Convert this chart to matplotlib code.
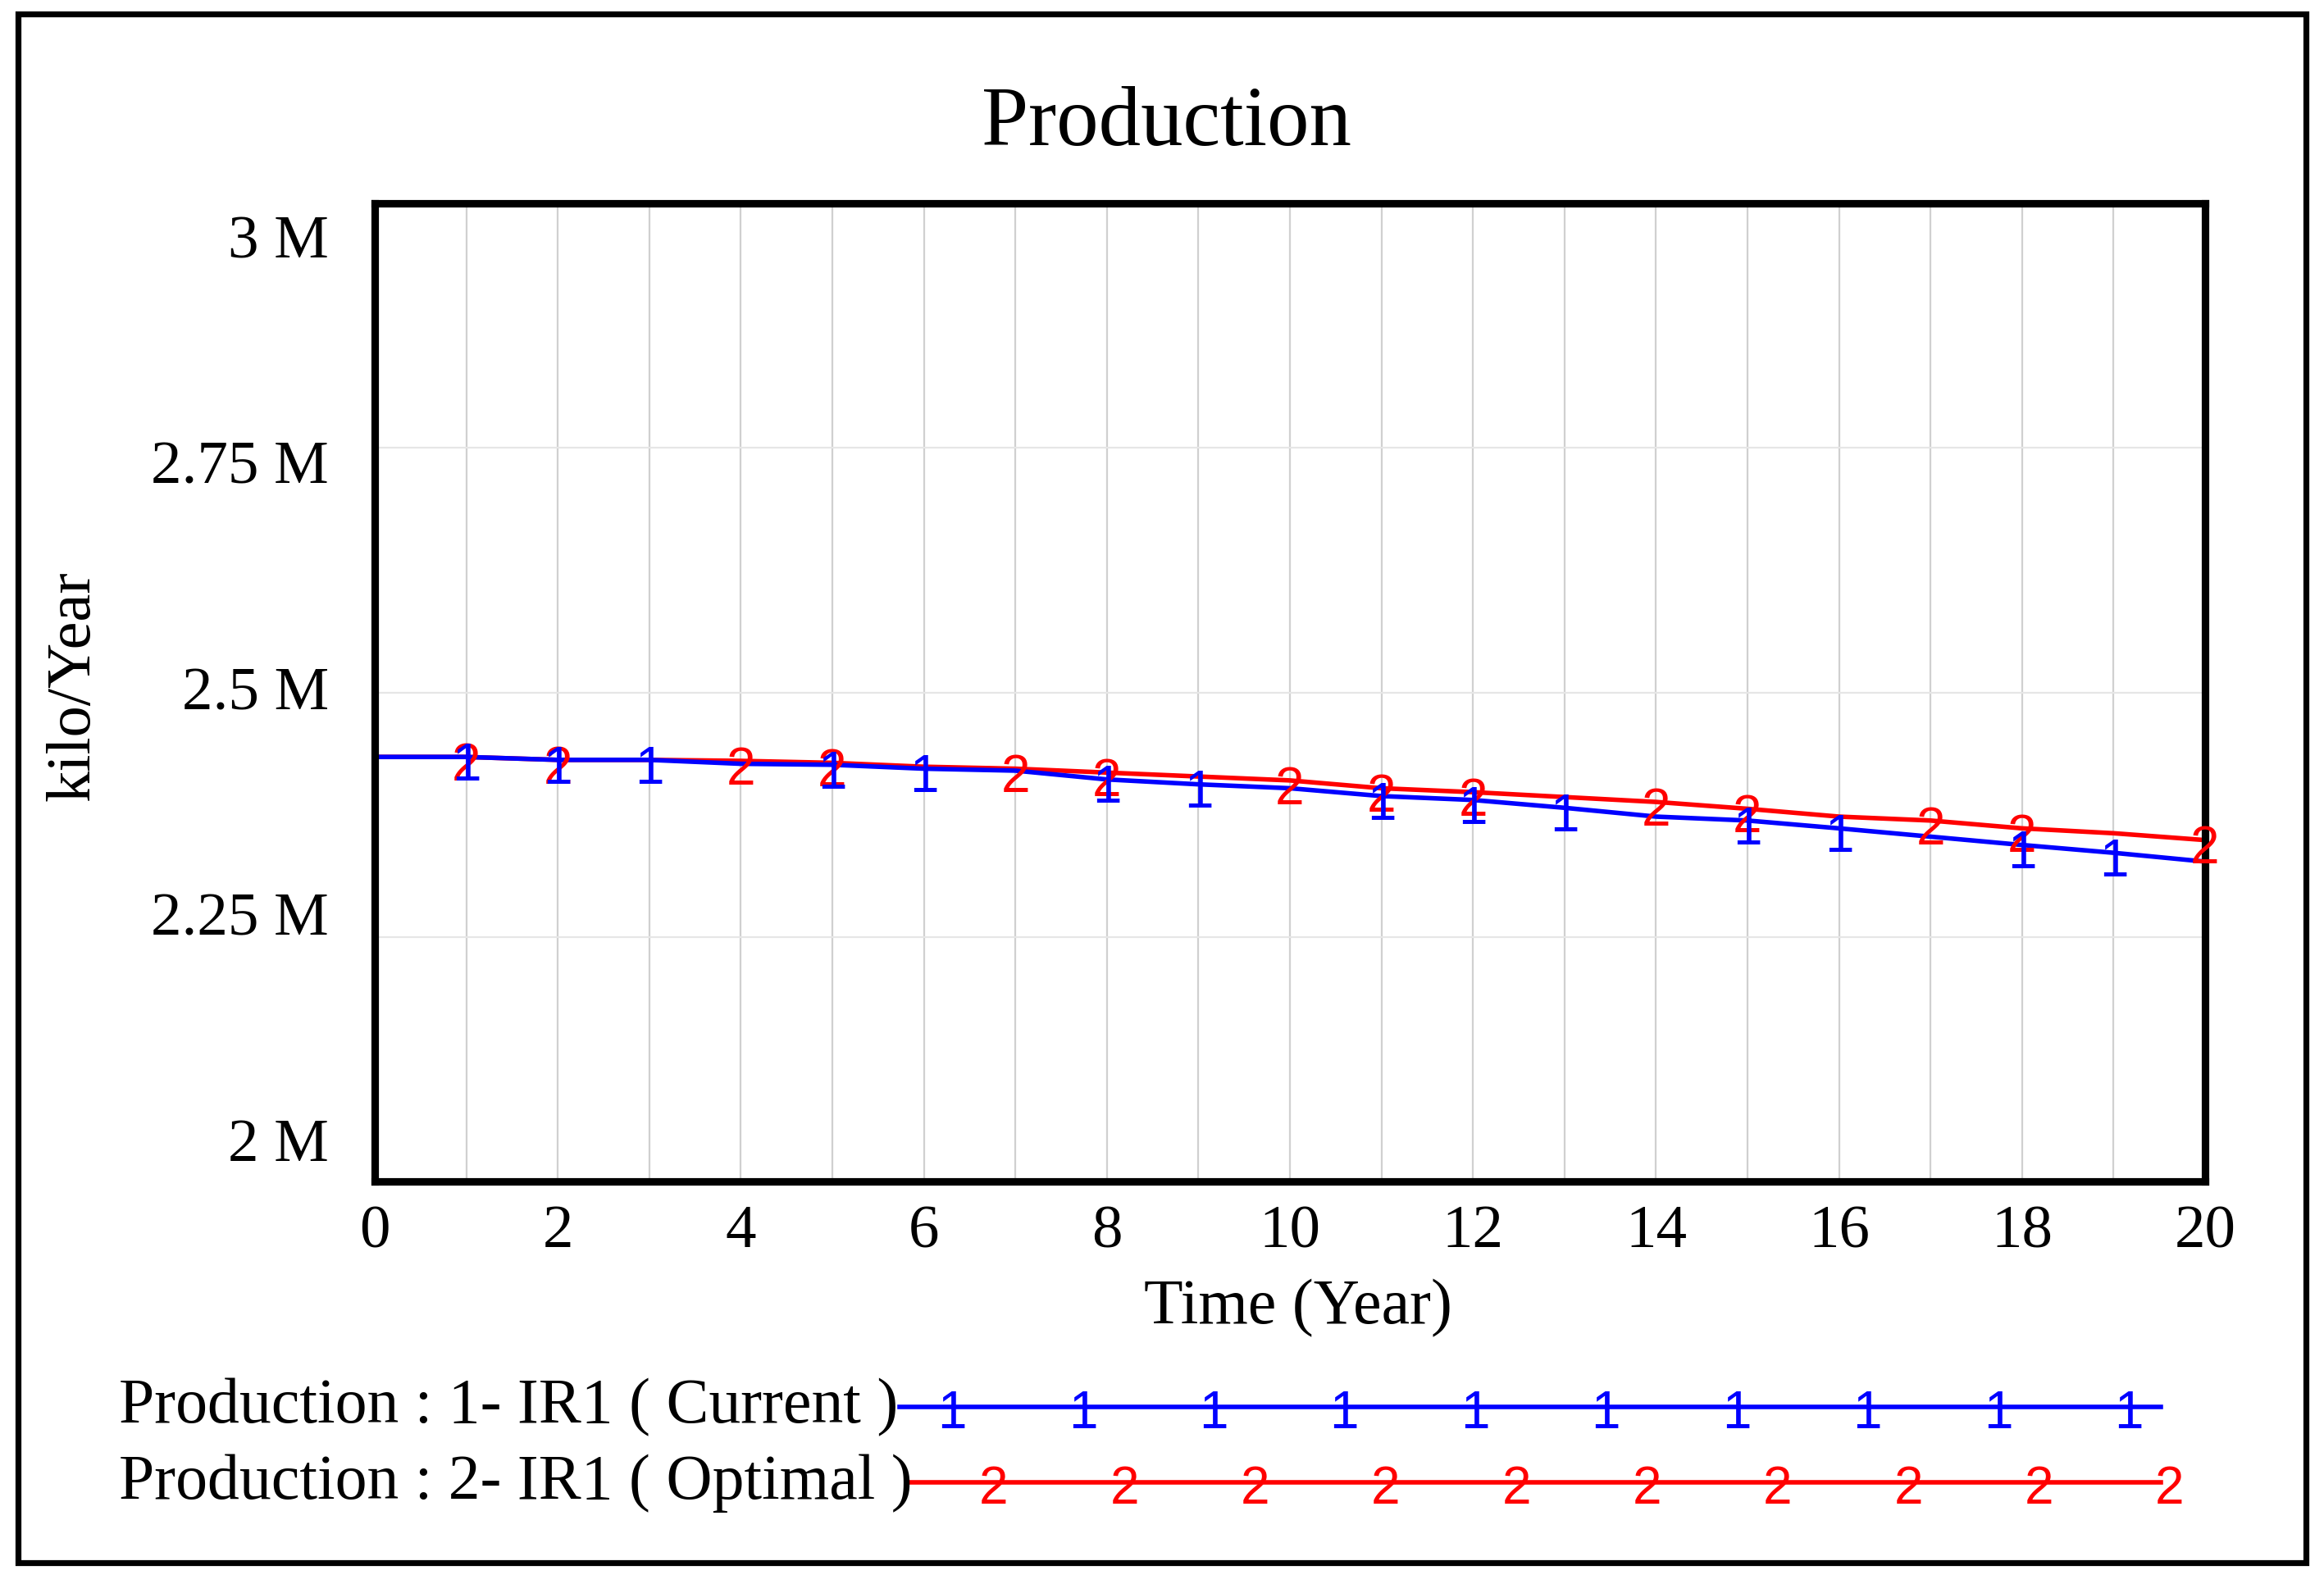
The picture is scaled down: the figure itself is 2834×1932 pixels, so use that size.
import matplotlib
matplotlib.use('Agg')
import matplotlib.pyplot as plt
import numpy as np
from matplotlib.transforms import offset_copy
from matplotlib.patches import Rectangle
from matplotlib.lines import Line2D

# ---------------- data ----------------
years = list(range(21))
current = [2.434, 2.434, 2.431, 2.431, 2.427, 2.426, 2.422, 2.420, 2.411, 2.406,
           2.402, 2.394, 2.390, 2.382, 2.373, 2.369, 2.361, 2.3525, 2.344, 2.336, 2.327]
optimal = [2.434, 2.434, 2.431, 2.431, 2.430, 2.428, 2.424, 2.422, 2.418, 2.414,
           2.410, 2.402, 2.398, 2.393, 2.388, 2.381, 2.373, 2.369, 2.361, 2.356, 2.349]
current_marks = [1, 2, 3, 5, 6, 8, 9, 11, 12, 13, 15, 16, 18, 19]
optimal_marks = [1, 2, 4, 5, 7, 8, 10, 11, 12, 14, 15, 17, 18, 20]
ytick_labels = ['2 M', '2.25 M', '2.5 M', '2.75 M', '3 M']
ygrid_values = [2.25, 2.5, 2.75]
xtick_values = list(range(0, 21, 2))
legend_labels = ['Production : 1- IR1 ( Current )', 'Production : 2- IR1 ( Optimal )']
title = 'Production'
xlabel = 'Time (Year)'
ylabel = 'kilo/Year'

# ---------------- layout ----------------
W, H, DPI = 2834, 1933, 200
SERIF = ['Liberation Serif', 'DejaVu Serif']
SANS = ['Liberation Sans', 'DejaVu Sans']
BLUE = '#0000ff'
RED = '#ff0000'
MARK_FS = 23

fig = plt.figure(figsize=(W / DPI, H / DPI), dpi=DPI)
fig.patch.set_facecolor('white')


def fx(px):
    return px / W


def fy(py):
    return 1 - py / H


ax_l, ax_r, ax_t, ax_b = 457, 2689, 249, 1442
ax = fig.add_axes([fx(ax_l), fy(ax_b), fx(ax_r) - fx(ax_l), fy(ax_t) - fy(ax_b)])
ax.set_xlim(0, 20)
ax.set_ylim(2, 3)

# grid
ax.set_xticks(years)
ax.set_xticklabels([str(t) if t in xtick_values else '' for t in years],
                   fontfamily=SERIF, fontsize=27)
ax.set_yticks(ygrid_values)
ax.set_yticklabels([])
ax.tick_params(length=0, pad=10)
ax.grid(axis='x', color='#d0d0d0', lw=0.8, zorder=0)
ax.grid(axis='y', color='#e6e6e6', lw=0.8, zorder=0)
for s in ax.spines.values():
    s.set_linewidth(3.3)
    s.set_color('black')
    s.set_zorder(4.5)

# y tick labels (Vensim style spread inside the axis span)
label_frac = np.linspace(0.043, 0.967, len(ytick_labels))
for fr, lab in zip(label_frac, ytick_labels):
    ax.text(-0.025, fr, lab, transform=ax.transAxes, ha='right', va='center_baseline',
            fontfamily=SERIF, fontsize=27)

# lines
ax.plot(years, optimal, color=RED, lw=2.0, zorder=3, solid_capstyle='butt')
ax.plot(years, current, color=BLUE, lw=2.0, zorder=4, solid_capstyle='butt')

tr_mark = offset_copy(ax.transData, fig=fig, y=-10, units='points')
for t in optimal_marks:
    ax.text(t, optimal[t], '2', color=RED, fontfamily=SANS, fontsize=MARK_FS, ha='center',
            va='baseline', transform=tr_mark, clip_on=False, zorder=5)
for t in current_marks:
    ax.text(t, current[t], '1', color=BLUE, fontfamily=SANS, fontsize=MARK_FS, ha='center',
            va='baseline', transform=tr_mark, clip_on=False, zorder=6)

# titles
fig.text(fx(1422), fy(141), title, ha='center', va='center_baseline',
         fontfamily=SERIF, fontsize=37)
fig.text(fx(1583), fy(1596), xlabel, ha='center', va='center',
         fontfamily=SERIF, fontsize=28)
fig.text(fx(90), fy(837), ylabel, ha='center', va='center', rotation=90,
         fontfamily=SERIF, fontsize=27.5)

# outer frame
fig.add_artist(Rectangle((fx(22), fy(1907)), fx(2812) - fx(22), fy(18) - fy(1907),
                         fill=False, lw=2.6, ec='black', transform=fig.transFigure))

# legend
leg_rows = [
    dict(label=legend_labels[0], color=BLUE, y=1717, x0=1097, x1=2635,
         m0=1161, m1=2596, digit='1'),
    dict(label=legend_labels[1], color=RED, y=1809, x0=1110, x1=2635,
         m0=1212, m1=2646, digit='2'),
]
tr_leg = offset_copy(fig.transFigure, fig=fig, y=-9, units='points')
for row in leg_rows:
    fig.text(fx(145), fy(row['y']), row['label'], ha='left', va='center',
             fontfamily=SERIF, fontsize=28)
    fig.add_artist(Line2D([fx(row['x0']), fx(row['x1'])], [fy(row['y'])] * 2,
                          color=row['color'], lw=2.0, transform=fig.transFigure))
    for mx in np.linspace(row['m0'], row['m1'], 10):
        fig.text(fx(mx), fy(row['y']), row['digit'], color=row['color'],
                 fontfamily=SANS, fontsize=MARK_FS, ha='center', va='baseline',
                 transform=tr_leg)

fig.savefig('out.png', dpi=DPI, facecolor='white')
